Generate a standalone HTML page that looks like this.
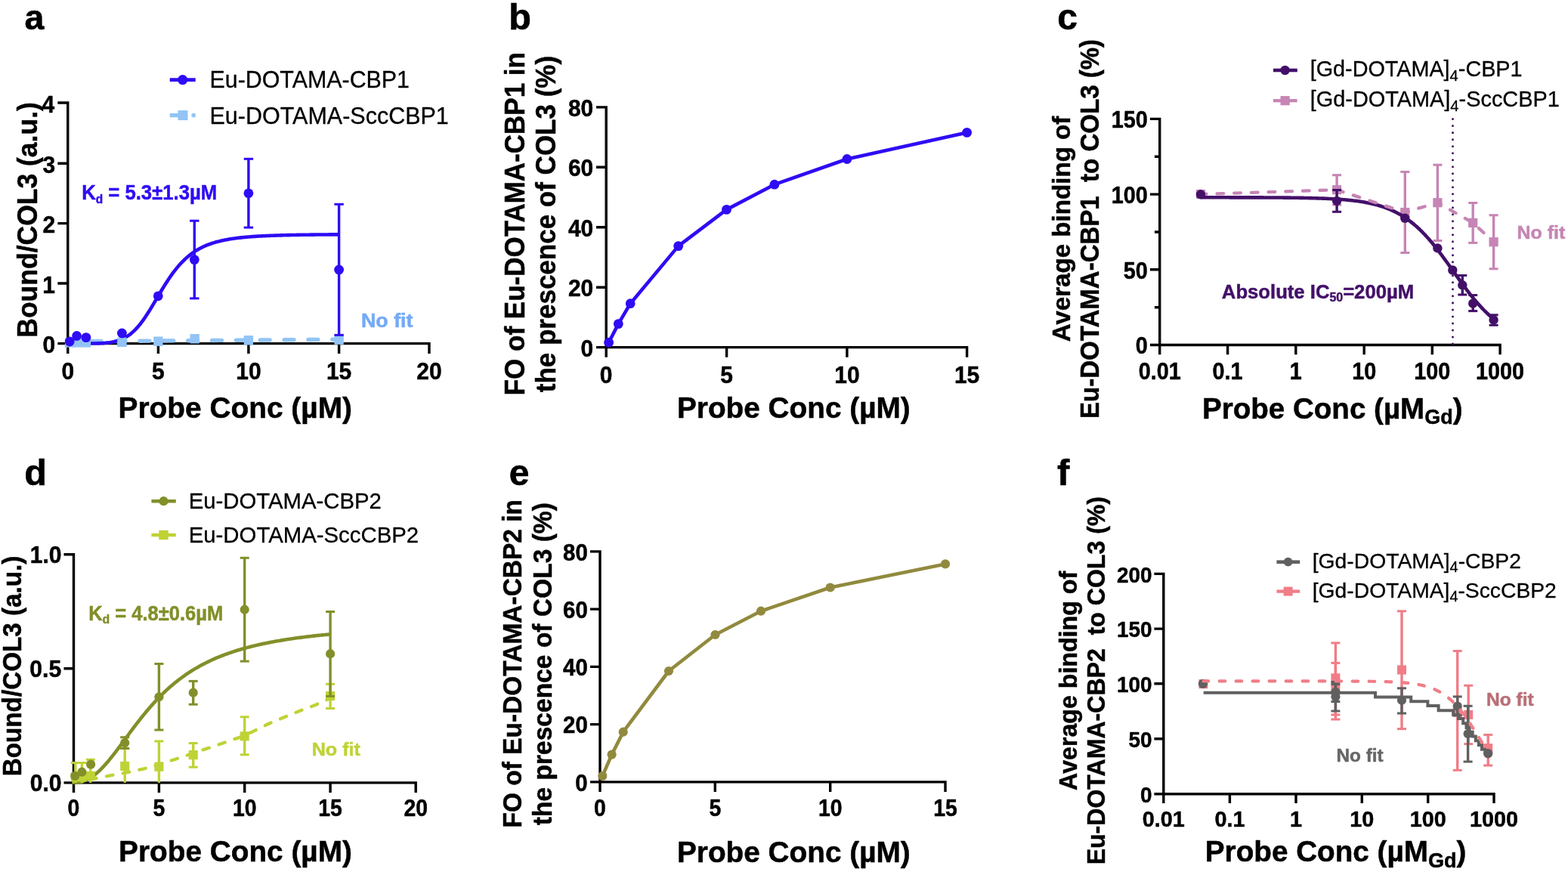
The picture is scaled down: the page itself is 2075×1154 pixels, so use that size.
<!DOCTYPE html>
<html lang="en">
<head>
<meta charset="utf-8">
<title>Probe binding to COL3 - panels a-f</title>
<style>
html,body{margin:0;padding:0;background:#fff;}
body{width:2075px;height:1154px;overflow:hidden;}
svg{display:block;}
svg text{font-family:'Liberation Sans', sans-serif;}
</style>
</head>
<body>
<svg width="2075" height="1154" viewBox="0 0 2075 1154" font-family="'Liberation Sans', sans-serif">
<rect x="0" y="0" width="2075" height="1154" fill="#ffffff"/>
<g id="panel-a">
<text transform="translate(33.9 39) translate(-1.4 0)" font-size="46.5" fill="#000" font-weight="bold" stroke="#000" stroke-width="0.6" stroke-linejoin="round">a</text>
<path d="M89.75,134.3 V468 M76.35,454.6 H569.7 M209.4,454.6 V468 M328.9,454.6 V468 M448.6,454.6 V468 M568,454.6 V468 M76.35,375 H89.75 M76.35,295.6 H89.75 M76.35,216.2 H89.75 M76.35,136 H89.75" fill="none" stroke="#000" stroke-width="3.4"/>
<text transform="translate(89.75 501.5) translate(-8.33 0) scale(0.9600 1)" font-size="31.2" fill="#000" font-weight="bold" stroke="#000" stroke-width="0.5" stroke-linejoin="round">0</text>
<text transform="translate(209.4 501.5) translate(-8.33 0) scale(0.9600 1)" font-size="31.2" fill="#000" font-weight="bold" stroke="#000" stroke-width="0.5" stroke-linejoin="round">5</text>
<text transform="translate(328.9 501.5) translate(-16.66 0) scale(0.9600 1)" font-size="31.2" fill="#000" font-weight="bold" stroke="#000" stroke-width="0.5" stroke-linejoin="round">10</text>
<text transform="translate(448.6 501.5) translate(-16.66 0) scale(0.9600 1)" font-size="31.2" fill="#000" font-weight="bold" stroke="#000" stroke-width="0.5" stroke-linejoin="round">15</text>
<text transform="translate(568 501.5) translate(-16.66 0) scale(0.9600 1)" font-size="31.2" fill="#000" font-weight="bold" stroke="#000" stroke-width="0.5" stroke-linejoin="round">20</text>
<text transform="translate(72 467.2) translate(-15.43 0) scale(0.9600 1)" font-size="31.2" fill="#000" font-weight="bold" stroke="#000" stroke-width="0.5" stroke-linejoin="round">0</text>
<text transform="translate(72 387.6) translate(-15.8 0) scale(0.9600 1)" font-size="31.2" fill="#000" font-weight="bold" stroke="#000" stroke-width="0.5" stroke-linejoin="round">1</text>
<text transform="translate(72 308.2) translate(-15.43 0) scale(0.9600 1)" font-size="31.2" fill="#000" font-weight="bold" stroke="#000" stroke-width="0.5" stroke-linejoin="round">2</text>
<text transform="translate(72 228.8) translate(-15.58 0) scale(0.9600 1)" font-size="31.2" fill="#000" font-weight="bold" stroke="#000" stroke-width="0.5" stroke-linejoin="round">3</text>
<text transform="translate(72 148.6) translate(-16.47 0) scale(0.9600 1)" font-size="31.2" fill="#000" font-weight="bold" stroke="#000" stroke-width="0.5" stroke-linejoin="round">4</text>
<text transform="translate(159.1 553.3) translate(-2.62 0) scale(0.9966 1)" font-size="39" fill="#000" font-weight="bold" stroke="#000" stroke-width="0.5" stroke-linejoin="round">Probe Conc (µM)</text>
<text transform="translate(48.6 444.3) rotate(-90) translate(-2.4 0) scale(0.9782 1)" font-size="36.3" fill="#000" font-weight="bold" stroke="#000" stroke-width="0.5" stroke-linejoin="round">Bound/COL3 (a.u.)</text>
<path d="M89.5,452 L448.6,449.2" fill="none" stroke="#93c4f5" stroke-width="5.4" stroke-linejoin="round" stroke-linecap="round" stroke-dasharray="12.8 19.05"/>
<path d="M89.75,454.6 L91.54,454.6 L93.34,454.6 L95.13,454.6 L96.92,454.6 L98.72,454.6 L100.51,454.6 L102.31,454.6 L104.1,454.6 L105.89,454.6 L107.69,454.6 L109.48,454.6 L111.27,454.59 L113.07,454.59 L114.86,454.58 L116.65,454.58 L118.45,454.57 L120.24,454.55 L122.04,454.54 L123.83,454.51 L125.62,454.48 L127.42,454.45 L129.21,454.4 L131,454.34 L132.8,454.27 L134.59,454.19 L136.38,454.08 L138.18,453.96 L139.97,453.81 L141.77,453.64 L143.56,453.44 L145.35,453.2 L147.15,452.93 L148.94,452.61 L150.73,452.25 L152.53,451.83 L154.32,451.36 L156.11,450.83 L157.91,450.23 L159.7,449.55 L161.5,448.8 L163.29,447.97 L165.08,447.04 L166.88,446.02 L168.67,444.9 L170.46,443.67 L172.26,442.34 L174.05,440.89 L175.84,439.33 L177.64,437.65 L179.43,435.85 L181.22,433.92 L183.02,431.88 L184.81,429.73 L186.61,427.46 L188.4,425.07 L190.19,422.59 L191.99,420 L193.78,417.33 L195.57,414.57 L197.37,411.74 L199.16,408.84 L200.95,405.89 L202.75,402.91 L204.54,399.89 L206.34,396.85 L208.13,393.81 L209.92,390.77 L211.72,387.74 L213.51,384.74 L215.3,381.78 L217.1,378.86 L218.89,375.99 L220.68,373.18 L222.48,370.44 L224.27,367.76 L226.07,365.16 L227.86,362.64 L229.65,360.21 L231.45,357.85 L233.24,355.59 L235.03,353.4 L236.83,351.31 L238.62,349.3 L240.41,347.38 L242.21,345.54 L244,343.78 L245.8,342.1 L247.59,340.5 L249.38,338.98 L251.18,337.53 L252.97,336.16 L254.76,334.85 L256.56,333.6 L258.35,332.42 L260.14,331.3 L261.94,330.24 L263.73,329.23 L265.53,328.28 L267.32,327.37 L269.11,326.52 L270.91,325.7 L272.7,324.93 L274.49,324.2 L276.29,323.51 L278.08,322.86 L279.87,322.24 L281.67,321.65 L283.46,321.1 L285.26,320.57 L287.05,320.07 L288.84,319.6 L290.64,319.15 L292.43,318.72 L294.22,318.32 L296.02,317.94 L297.81,317.57 L299.6,317.23 L301.4,316.9 L303.19,316.59 L304.99,316.3 L306.78,316.02 L308.57,315.75 L310.37,315.5 L312.16,315.26 L313.95,315.03 L315.75,314.81 L317.54,314.61 L319.33,314.41 L321.13,314.23 L322.92,314.05 L324.71,313.88 L326.51,313.72 L328.3,313.56 L330.1,313.42 L331.89,313.28 L333.68,313.15 L335.48,313.02 L337.27,312.9 L339.06,312.78 L340.86,312.67 L342.65,312.57 L344.44,312.47 L346.24,312.37 L348.03,312.28 L349.83,312.19 L351.62,312.11 L353.41,312.03 L355.21,311.95 L357,311.88 L358.79,311.81 L360.59,311.74 L362.38,311.68 L364.17,311.62 L365.97,311.56 L367.76,311.5 L369.56,311.45 L371.35,311.39 L373.14,311.34 L374.94,311.3 L376.73,311.25 L378.52,311.21 L380.32,311.16 L382.11,311.12 L383.9,311.09 L385.7,311.05 L387.49,311.01 L389.29,310.98 L391.08,310.94 L392.87,310.91 L394.67,310.88 L396.46,310.85 L398.25,310.82 L400.05,310.8 L401.84,310.77 L403.63,310.75 L405.43,310.72 L407.22,310.7 L409.02,310.68 L410.81,310.65 L412.6,310.63 L414.4,310.61 L416.19,310.59 L417.98,310.57 L419.78,310.56 L421.57,310.54 L423.36,310.52 L425.16,310.51 L426.95,310.49 L428.75,310.48 L430.54,310.46 L432.33,310.45 L434.13,310.43 L435.92,310.42 L437.71,310.41 L439.51,310.39 L441.3,310.38 L443.09,310.37 L444.89,310.36 L446.68,310.35 L448.47,310.34" fill="none" stroke="#2e0cf4" stroke-width="4.6" stroke-linejoin="round" stroke-linecap="butt"/>
<rect x="85.9" y="447.2" width="12.4" height="12.4" fill="#93c4f5"/>
<rect x="95.5" y="447.2" width="12.4" height="12.4" fill="#93c4f5"/>
<rect x="107.7" y="447.2" width="12.4" height="12.4" fill="#93c4f5"/>
<rect x="155.2" y="446.7" width="12.4" height="12.4" fill="#93c4f5"/>
<rect x="203.2" y="445.5" width="12.4" height="12.4" fill="#93c4f5"/>
<rect x="251.5" y="442.1" width="12.4" height="12.4" fill="#93c4f5"/>
<rect x="322.7" y="444.1" width="12.4" height="12.4" fill="#93c4f5"/>
<rect x="442.4" y="443.5" width="12.4" height="12.4" fill="#93c4f5"/>
<line x1="257.3" y1="292.2" x2="257.3" y2="394.9" stroke="#2e0cf4" stroke-width="3.4"/>
<line x1="251.1" y1="292.2" x2="263.5" y2="292.2" stroke="#2e0cf4" stroke-width="3.0"/>
<line x1="251.1" y1="394.9" x2="263.5" y2="394.9" stroke="#2e0cf4" stroke-width="3.0"/>
<line x1="328.9" y1="210.3" x2="328.9" y2="301.1" stroke="#2e0cf4" stroke-width="3.4"/>
<line x1="322.7" y1="210.3" x2="335.1" y2="210.3" stroke="#2e0cf4" stroke-width="3.0"/>
<line x1="322.7" y1="301.1" x2="335.1" y2="301.1" stroke="#2e0cf4" stroke-width="3.0"/>
<line x1="448.6" y1="270.3" x2="448.6" y2="443.4" stroke="#2e0cf4" stroke-width="3.4"/>
<line x1="442.4" y1="270.3" x2="454.8" y2="270.3" stroke="#2e0cf4" stroke-width="3.0"/>
<line x1="442.4" y1="443.4" x2="454.8" y2="443.4" stroke="#2e0cf4" stroke-width="3.0"/>
<circle cx="92.2" cy="452" r="6.4" fill="#2e0cf4"/>
<circle cx="101.6" cy="444.5" r="6.4" fill="#2e0cf4"/>
<circle cx="113.9" cy="446.6" r="6.4" fill="#2e0cf4"/>
<circle cx="161.4" cy="441" r="6.4" fill="#2e0cf4"/>
<circle cx="209.3" cy="391.8" r="6.4" fill="#2e0cf4"/>
<circle cx="257.3" cy="343.6" r="6.4" fill="#2e0cf4"/>
<circle cx="328.9" cy="255.8" r="6.4" fill="#2e0cf4"/>
<circle cx="448.6" cy="357" r="6.4" fill="#2e0cf4"/>
<line x1="224.7" y1="105.6" x2="258.7" y2="105.6" stroke="#2e0cf4" stroke-width="4.6"/>
<circle cx="241.7" cy="105.6" r="6.6" fill="#2e0cf4"/>
<text transform="translate(280 116.2) translate(-2.51 0) scale(0.9968 1)" font-size="30.5" fill="#000" stroke="#000" stroke-width="0.3" stroke-linejoin="round">Eu-DOTAMA-CBP1</text>
<line x1="224.7" y1="152.6" x2="242" y2="152.6" stroke="#93c4f5" stroke-width="5.4"/>
<rect x="235.5" y="146.1" width="13" height="13" fill="#93c4f5"/>
<path d="M255.9,149.9 H258.7 V155.3 H255.9 A2.7,2.7 0 0 1 255.9,149.9 Z" fill="#93c4f5"/>
<text transform="translate(280 163.5) translate(-2.52 0)" font-size="30.5" fill="#000" stroke="#000" stroke-width="0.3" stroke-linejoin="round">Eu-DOTAMA-SccCBP1</text>
<text transform="translate(109.9 264.2) translate(-1.74 0) scale(0.9247 1)" font-size="27.8" fill="#2e0cf4" font-weight="bold" stroke="#2e0cf4" stroke-width="0.5" stroke-linejoin="round">K<tspan font-size="16.68" dy="4.4">d</tspan><tspan dy="-4.4"> = 5.3±1.3µM</tspan></text>
<text transform="translate(479.8 432.9) translate(-1.81 0) scale(1.0319 1)" font-size="26" fill="#74aaf7" font-weight="bold" stroke="#74aaf7" stroke-width="0.5" stroke-linejoin="round">No fit</text>
</g>
<g id="panel-b">
<text transform="translate(676.3 38.7) translate(-3.16 0)" font-size="48.6" fill="#000" font-weight="bold" stroke="#000" stroke-width="0.6" stroke-linejoin="round">b</text>
<path d="M802.2,140.2 V472.8 M789,459.6 H1281.3 M961.6,459.6 V472.8 M1120.9,459.6 V472.8 M1279.6,459.6 V472.8 M789,380.2 H802.2 M789,300.7 H802.2 M789,221.3 H802.2 M789,141.9 H802.2" fill="none" stroke="#000" stroke-width="3.4"/>
<text transform="translate(802.2 506.9) translate(-8.33 0) scale(0.9600 1)" font-size="31.2" fill="#000" font-weight="bold" stroke="#000" stroke-width="0.5" stroke-linejoin="round">0</text>
<text transform="translate(961.6 506.9) translate(-8.33 0) scale(0.9600 1)" font-size="31.2" fill="#000" font-weight="bold" stroke="#000" stroke-width="0.5" stroke-linejoin="round">5</text>
<text transform="translate(1120.9 506.9) translate(-16.66 0) scale(0.9600 1)" font-size="31.2" fill="#000" font-weight="bold" stroke="#000" stroke-width="0.5" stroke-linejoin="round">10</text>
<text transform="translate(1279.6 506.9) translate(-16.66 0) scale(0.9600 1)" font-size="31.2" fill="#000" font-weight="bold" stroke="#000" stroke-width="0.5" stroke-linejoin="round">15</text>
<text transform="translate(784 471.6) translate(-15.43 0) scale(0.9600 1)" font-size="31.2" fill="#000" font-weight="bold" stroke="#000" stroke-width="0.5" stroke-linejoin="round">0</text>
<text transform="translate(784 392.2) translate(-32.05 0) scale(0.9600 1)" font-size="31.2" fill="#000" font-weight="bold" stroke="#000" stroke-width="0.5" stroke-linejoin="round">20</text>
<text transform="translate(784 312.7) translate(-32.05 0) scale(0.9600 1)" font-size="31.2" fill="#000" font-weight="bold" stroke="#000" stroke-width="0.5" stroke-linejoin="round">40</text>
<text transform="translate(784 233.3) translate(-32.05 0) scale(0.9600 1)" font-size="31.2" fill="#000" font-weight="bold" stroke="#000" stroke-width="0.5" stroke-linejoin="round">60</text>
<text transform="translate(784 153.9) translate(-32.05 0) scale(0.9600 1)" font-size="31.2" fill="#000" font-weight="bold" stroke="#000" stroke-width="0.5" stroke-linejoin="round">80</text>
<text transform="translate(898.6 553.4) translate(-2.62 0) scale(0.9943 1)" font-size="39" fill="#000" font-weight="bold" stroke="#000" stroke-width="0.5" stroke-linejoin="round">Probe Conc (µM)</text>
<text transform="translate(693.9 520.9) rotate(-90) translate(-2.36 0) scale(0.9408 1)" font-size="37.2" fill="#000" font-weight="bold" stroke="#000" stroke-width="0.5" stroke-linejoin="round">FO of Eu-DOTAMA-CBP1 in</text>
<text transform="translate(735.3 518.8) rotate(-90) translate(-0.44 0) scale(0.9411 1)" font-size="37.2" fill="#000" font-weight="bold" stroke="#000" stroke-width="0.5" stroke-linejoin="round">the prescence of COL3 (%)</text>
<path d="M805.6,453.2 L818.3,428.6 L834.2,401.7 L897.7,325.6 L961.5,277.4 L1024.9,244.2 L1120.9,210.5 L1279.6,175.4" fill="none" stroke="#2e0cf4" stroke-width="4.6" stroke-linejoin="round" stroke-linecap="butt"/>
<circle cx="805.6" cy="453.2" r="6.4" fill="#2e0cf4"/>
<circle cx="818.3" cy="428.6" r="6.4" fill="#2e0cf4"/>
<circle cx="834.2" cy="401.7" r="6.4" fill="#2e0cf4"/>
<circle cx="897.7" cy="325.6" r="6.4" fill="#2e0cf4"/>
<circle cx="961.5" cy="277.4" r="6.4" fill="#2e0cf4"/>
<circle cx="1024.9" cy="244.2" r="6.4" fill="#2e0cf4"/>
<circle cx="1120.9" cy="210.5" r="6.4" fill="#2e0cf4"/>
<circle cx="1279.6" cy="175.4" r="6.4" fill="#2e0cf4"/>
</g>
<g id="panel-c">
<text transform="translate(1401.2 38.6) translate(-1.92 0)" font-size="48" fill="#000" font-weight="bold" stroke="#000" stroke-width="0.6" stroke-linejoin="round">c</text>
<path d="M1534.7,155.7 V469.3 M1521.9,456.5 H1986.8 M1624.6,456.5 V469.3 M1714.8,456.5 V469.3 M1805.2,456.5 V469.3 M1895.3,456.5 V469.3 M1985.1,456.5 V469.3 M1521.9,356.8 H1534.7 M1521.9,257.1 H1534.7 M1521.9,157.4 H1534.7 M1527.9,406.7 H1534.7 M1527.9,307 H1534.7 M1527.9,207.3 H1534.7" fill="none" stroke="#000" stroke-width="3.4"/>
<text transform="translate(1534.7 501.7) translate(-28.03 0) scale(0.9230 1)" font-size="31.2" fill="#000" font-weight="bold" stroke="#000" stroke-width="0.5" stroke-linejoin="round">0.01</text>
<text transform="translate(1624.6 501.7) translate(-20.02 0) scale(0.9230 1)" font-size="31.2" fill="#000" font-weight="bold" stroke="#000" stroke-width="0.5" stroke-linejoin="round">0.1</text>
<text transform="translate(1714.8 501.7) translate(-8.01 0) scale(0.9230 1)" font-size="31.2" fill="#000" font-weight="bold" stroke="#000" stroke-width="0.5" stroke-linejoin="round">1</text>
<text transform="translate(1805.2 501.7) translate(-16.02 0) scale(0.9230 1)" font-size="31.2" fill="#000" font-weight="bold" stroke="#000" stroke-width="0.5" stroke-linejoin="round">10</text>
<text transform="translate(1895.3 501.7) translate(-24.02 0) scale(0.9230 1)" font-size="31.2" fill="#000" font-weight="bold" stroke="#000" stroke-width="0.5" stroke-linejoin="round">100</text>
<text transform="translate(1985.1 501.7) translate(-32.03 0) scale(0.9230 1)" font-size="31.2" fill="#000" font-weight="bold" stroke="#000" stroke-width="0.5" stroke-linejoin="round">1000</text>
<text transform="translate(1517.6 468.2) translate(-14.83 0) scale(0.9230 1)" font-size="31.2" fill="#000" font-weight="bold" stroke="#000" stroke-width="0.5" stroke-linejoin="round">0</text>
<text transform="translate(1517.6 368.5) translate(-30.81 0) scale(0.9230 1)" font-size="31.2" fill="#000" font-weight="bold" stroke="#000" stroke-width="0.5" stroke-linejoin="round">50</text>
<text transform="translate(1517.6 268.8) translate(-46.87 0) scale(0.9230 1)" font-size="31.2" fill="#000" font-weight="bold" stroke="#000" stroke-width="0.5" stroke-linejoin="round">100</text>
<text transform="translate(1517.6 169.1) translate(-46.87 0) scale(0.9230 1)" font-size="31.2" fill="#000" font-weight="bold" stroke="#000" stroke-width="0.5" stroke-linejoin="round">150</text>
<text transform="translate(1593.6 553.6) translate(-2.6 0) scale(0.9891 1)" font-size="39" fill="#000" font-weight="bold" stroke="#000" stroke-width="0.5" stroke-linejoin="round">Probe Conc (µM<tspan font-size="27.3" dy="7.5">Gd</tspan><tspan dy="-7.5">)</tspan></text>
<text transform="translate(1415.8 451.5) rotate(-90) translate(-0.83 0) scale(1.0160 1)" font-size="32.6" fill="#000" font-weight="bold" stroke="#000" stroke-width="0.5" stroke-linejoin="round">Average binding of</text>
<text transform="translate(1453.6 551.8) rotate(-90) translate(-2.23 0) scale(0.9467 1)" font-size="34.9" fill="#000" font-weight="bold" stroke="#000" stroke-width="0.5" stroke-linejoin="round" xml:space="preserve">Eu-DOTAMA-CBP1  to COL3 (%)</text>
<line x1="1769.1" y1="231.7" x2="1769.1" y2="271" stroke="#c685b4" stroke-width="3.4"/>
<line x1="1763.1" y1="231.7" x2="1775.1" y2="231.7" stroke="#c685b4" stroke-width="3.0"/>
<line x1="1763.1" y1="271" x2="1775.1" y2="271" stroke="#c685b4" stroke-width="3.0"/>
<line x1="1859.3" y1="227.4" x2="1859.3" y2="334.5" stroke="#c685b4" stroke-width="3.4"/>
<line x1="1853.3" y1="227.4" x2="1865.3" y2="227.4" stroke="#c685b4" stroke-width="3.0"/>
<line x1="1853.3" y1="334.5" x2="1865.3" y2="334.5" stroke="#c685b4" stroke-width="3.0"/>
<line x1="1902.4" y1="218.2" x2="1902.4" y2="318.5" stroke="#c685b4" stroke-width="3.4"/>
<line x1="1896.4" y1="218.2" x2="1908.4" y2="218.2" stroke="#c685b4" stroke-width="3.0"/>
<line x1="1896.4" y1="318.5" x2="1908.4" y2="318.5" stroke="#c685b4" stroke-width="3.0"/>
<line x1="1949.2" y1="268.5" x2="1949.2" y2="321.4" stroke="#c685b4" stroke-width="3.4"/>
<line x1="1943.2" y1="268.5" x2="1955.2" y2="268.5" stroke="#c685b4" stroke-width="3.0"/>
<line x1="1943.2" y1="321.4" x2="1955.2" y2="321.4" stroke="#c685b4" stroke-width="3.0"/>
<line x1="1976.6" y1="284.8" x2="1976.6" y2="355.8" stroke="#c685b4" stroke-width="3.4"/>
<line x1="1970.6" y1="284.8" x2="1982.6" y2="284.8" stroke="#c685b4" stroke-width="3.0"/>
<line x1="1970.6" y1="355.8" x2="1982.6" y2="355.8" stroke="#c685b4" stroke-width="3.0"/>
<rect x="1582.9" y="250.9" width="12.2" height="12.2" fill="#c685b4"/>
<rect x="1763" y="245.1" width="12.2" height="12.2" fill="#c685b4"/>
<rect x="1853.2" y="274.9" width="12.2" height="12.2" fill="#c685b4"/>
<rect x="1896.3" y="262.1" width="12.2" height="12.2" fill="#c685b4"/>
<rect x="1943.1" y="288.8" width="12.2" height="12.2" fill="#c685b4"/>
<rect x="1970.5" y="314.1" width="12.2" height="12.2" fill="#c685b4"/>
<path d="M1588.95,261.3 L1590.56,261.3 L1592.18,261.3 L1593.79,261.3 L1595.41,261.3 L1597.02,261.3 L1598.64,261.3 L1600.25,261.3 L1601.87,261.31 L1603.48,261.31 L1605.1,261.31 L1606.71,261.31 L1608.33,261.31 L1609.94,261.31 L1611.56,261.31 L1613.17,261.31 L1614.79,261.31 L1616.4,261.32 L1618.02,261.32 L1619.63,261.32 L1621.25,261.32 L1622.86,261.32 L1624.48,261.32 L1626.09,261.32 L1627.71,261.33 L1629.32,261.33 L1630.94,261.33 L1632.55,261.33 L1634.17,261.33 L1635.78,261.34 L1637.4,261.34 L1639.01,261.34 L1640.63,261.34 L1642.24,261.35 L1643.86,261.35 L1645.47,261.35 L1647.09,261.35 L1648.7,261.36 L1650.32,261.36 L1651.93,261.36 L1653.55,261.37 L1655.16,261.37 L1656.78,261.38 L1658.39,261.38 L1660.01,261.39 L1661.62,261.39 L1663.24,261.39 L1664.85,261.4 L1666.47,261.41 L1668.08,261.41 L1669.7,261.42 L1671.31,261.42 L1672.93,261.43 L1674.55,261.44 L1676.16,261.44 L1677.78,261.45 L1679.39,261.46 L1681.01,261.47 L1682.62,261.48 L1684.24,261.48 L1685.85,261.49 L1687.47,261.5 L1689.08,261.51 L1690.7,261.52 L1692.31,261.54 L1693.93,261.55 L1695.54,261.56 L1697.16,261.57 L1698.77,261.59 L1700.39,261.6 L1702,261.62 L1703.62,261.63 L1705.23,261.65 L1706.85,261.67 L1708.46,261.68 L1710.08,261.7 L1711.69,261.72 L1713.31,261.74 L1714.92,261.76 L1716.54,261.79 L1718.15,261.81 L1719.77,261.84 L1721.38,261.86 L1723,261.89 L1724.61,261.92 L1726.23,261.95 L1727.84,261.98 L1729.46,262.01 L1731.07,262.05 L1732.69,262.08 L1734.3,262.12 L1735.92,262.16 L1737.53,262.2 L1739.15,262.24 L1740.76,262.29 L1742.38,262.34 L1743.99,262.39 L1745.61,262.44 L1747.22,262.49 L1748.84,262.55 L1750.45,262.61 L1752.07,262.67 L1753.68,262.74 L1755.3,262.81 L1756.91,262.88 L1758.53,262.96 L1760.14,263.04 L1761.76,263.12 L1763.37,263.2 L1764.99,263.29 L1766.61,263.39 L1768.22,263.49 L1769.84,263.59 L1771.45,263.7 L1773.07,263.82 L1774.68,263.93 L1776.3,264.06 L1777.91,264.19 L1779.53,264.33 L1781.14,264.47 L1782.76,264.62 L1784.37,264.77 L1785.99,264.94 L1787.6,265.11 L1789.22,265.29 L1790.83,265.47 L1792.45,265.67 L1794.06,265.87 L1795.68,266.09 L1797.29,266.31 L1798.91,266.54 L1800.52,266.79 L1802.14,267.04 L1803.75,267.31 L1805.37,267.59 L1806.98,267.88 L1808.6,268.18 L1810.21,268.5 L1811.83,268.83 L1813.44,269.17 L1815.06,269.54 L1816.67,269.91 L1818.29,270.3 L1819.9,270.71 L1821.52,271.14 L1823.13,271.59 L1824.75,272.05 L1826.36,272.54 L1827.98,273.04 L1829.59,273.57 L1831.21,274.11 L1832.82,274.68 L1834.44,275.28 L1836.05,275.9 L1837.67,276.54 L1839.28,277.21 L1840.9,277.9 L1842.51,278.63 L1844.13,279.38 L1845.74,280.16 L1847.36,280.97 L1848.97,281.81 L1850.59,282.68 L1852.2,283.59 L1853.82,284.52 L1855.43,285.5 L1857.05,286.5 L1858.66,287.54 L1860.28,288.62 L1861.9,289.74 L1863.51,290.89 L1865.13,292.08 L1866.74,293.31 L1868.36,294.58 L1869.97,295.89 L1871.59,297.23 L1873.2,298.62 L1874.82,300.05 L1876.43,301.52 L1878.05,303.03 L1879.66,304.58 L1881.28,306.17 L1882.89,307.8 L1884.51,309.48 L1886.12,311.19 L1887.74,312.94 L1889.35,314.73 L1890.97,316.56 L1892.58,318.43 L1894.2,320.33 L1895.81,322.27 L1897.43,324.24 L1899.04,326.25 L1900.66,328.29 L1902.27,330.35 L1903.89,332.45 L1905.5,334.57 L1907.12,336.72 L1908.73,338.89 L1910.35,341.08 L1911.96,343.29 L1913.58,345.51 L1915.19,347.75 L1916.81,350.01 L1918.42,352.27 L1920.04,354.54 L1921.65,356.81 L1923.27,359.09 L1924.88,361.36 L1926.5,363.63 L1928.11,365.9 L1929.73,368.16 L1931.34,370.41 L1932.96,372.65 L1934.57,374.87 L1936.19,377.08 L1937.8,379.27 L1939.42,381.43 L1941.03,383.58 L1942.65,385.69 L1944.26,387.79 L1945.88,389.85 L1947.49,391.88 L1949.11,393.88 L1950.72,395.85 L1952.34,397.78 L1953.95,399.68 L1955.57,401.54 L1957.19,403.36 L1958.8,405.14 L1960.42,406.89 L1962.03,408.6 L1963.65,410.26 L1965.26,411.89 L1966.88,413.47 L1968.49,415.02 L1970.11,416.52 L1971.72,417.98 L1973.34,419.4 L1974.95,420.78 L1976.57,422.13" fill="none" stroke="#431069" stroke-width="4.6" stroke-linejoin="round" stroke-linecap="butt"/>
<path d="M1589,257 L1769.1,251.2 L1859.3,281 L1902.4,268.2 L1949.2,294.9 L1976.6,320.2" fill="none" stroke="#c685b4" stroke-width="4.3" stroke-linejoin="round" stroke-linecap="round" stroke-dasharray="8.7 14" stroke-dashoffset="1.2"/>
<line x1="1769.1" y1="251.5" x2="1769.1" y2="280.3" stroke="#431069" stroke-width="3.4"/>
<line x1="1763.1" y1="251.5" x2="1775.1" y2="251.5" stroke="#431069" stroke-width="3.0"/>
<line x1="1763.1" y1="280.3" x2="1775.1" y2="280.3" stroke="#431069" stroke-width="3.0"/>
<line x1="1935.3" y1="364.5" x2="1935.3" y2="390" stroke="#431069" stroke-width="3.4"/>
<line x1="1929.3" y1="364.5" x2="1941.3" y2="364.5" stroke="#431069" stroke-width="3.0"/>
<line x1="1929.3" y1="390" x2="1941.3" y2="390" stroke="#431069" stroke-width="3.0"/>
<line x1="1949.2" y1="390.6" x2="1949.2" y2="411.6" stroke="#431069" stroke-width="3.4"/>
<line x1="1943.2" y1="390.6" x2="1955.2" y2="390.6" stroke="#431069" stroke-width="3.0"/>
<line x1="1943.2" y1="411.6" x2="1955.2" y2="411.6" stroke="#431069" stroke-width="3.0"/>
<line x1="1976.6" y1="416.8" x2="1976.6" y2="430.3" stroke="#431069" stroke-width="3.4"/>
<line x1="1970.6" y1="416.8" x2="1982.6" y2="416.8" stroke="#431069" stroke-width="3.0"/>
<line x1="1970.6" y1="430.3" x2="1982.6" y2="430.3" stroke="#431069" stroke-width="3.0"/>
<circle cx="1588.9" cy="257.3" r="6.2" fill="#431069"/>
<circle cx="1769.1" cy="265.9" r="6.2" fill="#431069"/>
<circle cx="1859.3" cy="288.8" r="6.2" fill="#431069"/>
<circle cx="1902.4" cy="328.4" r="6.2" fill="#431069"/>
<circle cx="1922.3" cy="357.5" r="6.2" fill="#431069"/>
<circle cx="1935.3" cy="377.3" r="6.2" fill="#431069"/>
<circle cx="1949.2" cy="401.7" r="6.2" fill="#431069"/>
<circle cx="1976.6" cy="423.4" r="6.2" fill="#431069"/>
<line x1="1922.5" y1="157.6" x2="1922.5" y2="455" stroke="#431069" stroke-width="3.0" stroke-dasharray="0.01 9" stroke-linecap="round"/>
<line x1="1685" y1="93" x2="1716.8" y2="93" stroke="#431069" stroke-width="4.6"/>
<circle cx="1700.6" cy="93" r="6.2" fill="#431069"/>
<text transform="translate(1735.8 101.1) translate(-2.09 0) scale(0.9761 1)" font-size="29.5" fill="#000" stroke="#000" stroke-width="0.3" stroke-linejoin="round">[Gd-DOTAMA]<tspan font-size="20.65" dy="5.7">4</tspan><tspan dy="-5.7">-CBP1</tspan></text>
<line x1="1685" y1="133.2" x2="1716.6" y2="133.2" stroke="#c685b4" stroke-width="4.3"/>
<rect x="1694.5" y="127.1" width="12.2" height="12.2" fill="#c685b4"/>
<text transform="translate(1735.8 141) translate(-2.1 0) scale(0.9796 1)" font-size="29.5" fill="#000" stroke="#000" stroke-width="0.3" stroke-linejoin="round">[Gd-DOTAMA]<tspan font-size="20.65" dy="5.7">4</tspan><tspan dy="-5.7">-SccCBP1</tspan></text>
<text transform="translate(1617.5 395.2) translate(-0.64 0) scale(0.9687 1)" font-size="26.5" fill="#431069" font-weight="bold" stroke="#431069" stroke-width="0.5" stroke-linejoin="round">Absolute IC<tspan font-size="16.43" dy="4.2">50</tspan><tspan dy="-4.2">=200µM</tspan></text>
<text transform="translate(2009.2 315.6) translate(-1.69 0) scale(1.0068 1)" font-size="24.8" fill="#c685b4" font-weight="bold" stroke="#c685b4" stroke-width="0.5" stroke-linejoin="round">No fit</text>
</g>
<g id="panel-d">
<text transform="translate(34.2 641.8) translate(-1.94 0)" font-size="48.6" fill="#000" font-weight="bold" stroke="#000" stroke-width="0.6" stroke-linejoin="round">d</text>
<path d="M97.5,732 V1048.9 M84.5,1035.9 H551.9 M210.4,1035.9 V1048.9 M323.7,1035.9 V1048.9 M437.1,1035.9 V1048.9 M550.2,1035.9 V1048.9 M84.5,884.8 H97.5 M84.5,733.7 H97.5" fill="none" stroke="#000" stroke-width="3.4"/>
<text transform="translate(97.5 1080.3) translate(-7.89 0) scale(0.9300 1)" font-size="30.5" fill="#000" font-weight="bold" stroke="#000" stroke-width="0.5" stroke-linejoin="round">0</text>
<text transform="translate(210.4 1080.3) translate(-7.89 0) scale(0.9300 1)" font-size="30.5" fill="#000" font-weight="bold" stroke="#000" stroke-width="0.5" stroke-linejoin="round">5</text>
<text transform="translate(323.7 1080.3) translate(-15.78 0) scale(0.9300 1)" font-size="30.5" fill="#000" font-weight="bold" stroke="#000" stroke-width="0.5" stroke-linejoin="round">10</text>
<text transform="translate(437.1 1080.3) translate(-15.78 0) scale(0.9300 1)" font-size="30.5" fill="#000" font-weight="bold" stroke="#000" stroke-width="0.5" stroke-linejoin="round">15</text>
<text transform="translate(550.2 1080.3) translate(-15.78 0) scale(0.9300 1)" font-size="30.5" fill="#000" font-weight="bold" stroke="#000" stroke-width="0.5" stroke-linejoin="round">20</text>
<text transform="translate(80.3 1046.9) translate(-40.64 0) scale(0.9870 1)" font-size="30.5" fill="#000" font-weight="bold" stroke="#000" stroke-width="0.5" stroke-linejoin="round">0.0</text>
<text transform="translate(80.3 895.8) translate(-41.02 0) scale(0.9870 1)" font-size="30.5" fill="#000" font-weight="bold" stroke="#000" stroke-width="0.5" stroke-linejoin="round">0.5</text>
<text transform="translate(80.3 744.7) translate(-40.64 0) scale(0.9870 1)" font-size="30.5" fill="#000" font-weight="bold" stroke="#000" stroke-width="0.5" stroke-linejoin="round">1.0</text>
<text transform="translate(159.7 1140.4) translate(-2.62 0) scale(0.9943 1)" font-size="39" fill="#000" font-weight="bold" stroke="#000" stroke-width="0.5" stroke-linejoin="round">Probe Conc (µM)</text>
<text transform="translate(27.8 1025.1) rotate(-90) translate(-2.24 0) scale(0.9502 1)" font-size="35" fill="#000" font-weight="bold" stroke="#000" stroke-width="0.5" stroke-linejoin="round">Bound/COL3 (a.u.)</text>
<path d="M97.5,1035.5 L166.6,1022.5 L190.8,1017.3 L230.7,1005.2 L294.9,983.5 L323.7,973.5 L355.5,957.8 L397.2,940.5 L418,932.7 L437.1,924" fill="none" stroke="#bfd236" stroke-width="4.3" stroke-linejoin="round" stroke-linecap="round" stroke-dasharray="8.6 13.5"/>
<path d="M97.5,1035.9 L99.2,1035.88 L100.9,1035.79 L102.59,1035.64 L104.29,1035.4 L105.99,1035.09 L107.69,1034.69 L109.39,1034.21 L111.08,1033.64 L112.78,1032.98 L114.48,1032.23 L116.18,1031.39 L117.88,1030.46 L119.57,1029.45 L121.27,1028.34 L122.97,1027.16 L124.67,1025.89 L126.37,1024.53 L128.06,1023.1 L129.76,1021.6 L131.46,1020.02 L133.16,1018.37 L134.86,1016.65 L136.55,1014.87 L138.25,1013.02 L139.95,1011.13 L141.65,1009.18 L143.35,1007.18 L145.04,1005.13 L146.74,1003.04 L148.44,1000.92 L150.14,998.76 L151.84,996.57 L153.53,994.36 L155.23,992.12 L156.93,989.87 L158.63,987.59 L160.33,985.31 L162.02,983.02 L163.72,980.72 L165.42,978.41 L167.12,976.11 L168.82,973.81 L170.51,971.51 L172.21,969.22 L173.91,966.94 L175.61,964.68 L177.31,962.42 L179,960.18 L180.7,957.96 L182.4,955.76 L184.1,953.58 L185.8,951.42 L187.49,949.28 L189.19,947.17 L190.89,945.08 L192.59,943.02 L194.29,940.98 L195.98,938.97 L197.68,936.99 L199.38,935.04 L201.08,933.12 L202.78,931.22 L204.47,929.36 L206.17,927.53 L207.87,925.72 L209.57,923.95 L211.27,922.2 L212.96,920.49 L214.66,918.8 L216.36,917.15 L218.06,915.52 L219.76,913.93 L221.45,912.36 L223.15,910.82 L224.85,909.31 L226.55,907.83 L228.25,906.38 L229.94,904.96 L231.64,903.56 L233.34,902.19 L235.04,900.85 L236.74,899.53 L238.43,898.24 L240.13,896.98 L241.83,895.74 L243.53,894.52 L245.23,893.33 L246.92,892.16 L248.62,891.02 L250.32,889.9 L252.02,888.8 L253.72,887.73 L255.41,886.67 L257.11,885.64 L258.81,884.63 L260.51,883.64 L262.21,882.66 L263.9,881.71 L265.6,880.78 L267.3,879.87 L269,878.97 L270.7,878.09 L272.39,877.23 L274.09,876.39 L275.79,875.57 L277.49,874.76 L279.19,873.97 L280.88,873.19 L282.58,872.43 L284.28,871.68 L285.98,870.95 L287.68,870.24 L289.37,869.53 L291.07,868.84 L292.77,868.17 L294.47,867.51 L296.17,866.86 L297.86,866.22 L299.56,865.6 L301.26,864.99 L302.96,864.39 L304.66,863.8 L306.35,863.22 L308.05,862.66 L309.75,862.1 L311.45,861.56 L313.15,861.03 L314.84,860.5 L316.54,859.99 L318.24,859.49 L319.94,858.99 L321.64,858.51 L323.33,858.03 L325.03,857.56 L326.73,857.1 L328.43,856.65 L330.13,856.21 L331.82,855.78 L333.52,855.35 L335.22,854.93 L336.92,854.52 L338.62,854.12 L340.31,853.72 L342.01,853.33 L343.71,852.95 L345.41,852.58 L347.11,852.21 L348.8,851.85 L350.5,851.49 L352.2,851.14 L353.9,850.8 L355.6,850.46 L357.29,850.13 L358.99,849.8 L360.69,849.48 L362.39,849.17 L364.09,848.86 L365.78,848.55 L367.48,848.25 L369.18,847.96 L370.88,847.67 L372.58,847.39 L374.27,847.11 L375.97,846.83 L377.67,846.56 L379.37,846.3 L381.07,846.03 L382.76,845.78 L384.46,845.52 L386.16,845.27 L387.86,845.03 L389.56,844.79 L391.25,844.55 L392.95,844.32 L394.65,844.09 L396.35,843.86 L398.05,843.64 L399.74,843.42 L401.44,843.2 L403.14,842.99 L404.84,842.78 L406.54,842.58 L408.23,842.37 L409.93,842.17 L411.63,841.98 L413.33,841.78 L415.03,841.59 L416.72,841.41 L418.42,841.22 L420.12,841.04 L421.82,840.86 L423.52,840.68 L425.21,840.51 L426.91,840.34 L428.61,840.17 L430.31,840 L432.01,839.84 L433.7,839.67 L435.4,839.51 L437.1,839.36" fill="none" stroke="#838f29" stroke-width="4.6" stroke-linejoin="round" stroke-linecap="butt"/>
<line x1="99.8" y1="1009.5" x2="99.8" y2="1035.9" stroke="#bfd236" stroke-width="3.4"/>
<line x1="93.8" y1="1009.5" x2="105.8" y2="1009.5" stroke="#bfd236" stroke-width="3.0"/>
<line x1="108.4" y1="1009.5" x2="108.4" y2="1035.9" stroke="#bfd236" stroke-width="3.4"/>
<line x1="102.4" y1="1009.5" x2="114.4" y2="1009.5" stroke="#bfd236" stroke-width="3.0"/>
<line x1="119.8" y1="1005.2" x2="119.8" y2="1035.9" stroke="#bfd236" stroke-width="3.4"/>
<line x1="113.8" y1="1005.2" x2="125.8" y2="1005.2" stroke="#bfd236" stroke-width="3.0"/>
<line x1="165.2" y1="990.4" x2="165.2" y2="1035.9" stroke="#bfd236" stroke-width="3.4"/>
<line x1="159.2" y1="990.4" x2="171.2" y2="990.4" stroke="#bfd236" stroke-width="3.0"/>
<line x1="210.4" y1="980.9" x2="210.4" y2="1035.9" stroke="#bfd236" stroke-width="3.4"/>
<line x1="204.4" y1="980.9" x2="216.4" y2="980.9" stroke="#bfd236" stroke-width="3.0"/>
<line x1="255.7" y1="983.5" x2="255.7" y2="1015.2" stroke="#bfd236" stroke-width="3.4"/>
<line x1="249.7" y1="983.5" x2="261.7" y2="983.5" stroke="#bfd236" stroke-width="3.0"/>
<line x1="249.7" y1="1015.2" x2="261.7" y2="1015.2" stroke="#bfd236" stroke-width="3.0"/>
<line x1="323.7" y1="948.8" x2="323.7" y2="998.8" stroke="#bfd236" stroke-width="3.4"/>
<line x1="317.7" y1="948.8" x2="329.7" y2="948.8" stroke="#bfd236" stroke-width="3.0"/>
<line x1="317.7" y1="998.8" x2="329.7" y2="998.8" stroke="#bfd236" stroke-width="3.0"/>
<line x1="437.1" y1="905.3" x2="437.1" y2="937.5" stroke="#bfd236" stroke-width="3.4"/>
<line x1="431.1" y1="905.3" x2="443.1" y2="905.3" stroke="#bfd236" stroke-width="3.0"/>
<line x1="431.1" y1="937.5" x2="443.1" y2="937.5" stroke="#bfd236" stroke-width="3.0"/>
<rect x="93.75" y="1022.25" width="12.1" height="12.1" fill="#bfd236"/>
<rect x="102.35" y="1022.25" width="12.1" height="12.1" fill="#bfd236"/>
<rect x="113.75" y="1020.75" width="12.1" height="12.1" fill="#bfd236"/>
<rect x="159.15" y="1007.85" width="12.1" height="12.1" fill="#bfd236"/>
<rect x="204.35" y="1008.65" width="12.1" height="12.1" fill="#bfd236"/>
<rect x="249.65" y="993.05" width="12.1" height="12.1" fill="#bfd236"/>
<rect x="317.65" y="968.25" width="12.1" height="12.1" fill="#bfd236"/>
<rect x="431.05" y="914.95" width="12.1" height="12.1" fill="#bfd236"/>
<line x1="165.2" y1="975.7" x2="165.2" y2="990.4" stroke="#838f29" stroke-width="3.4"/>
<line x1="159.2" y1="975.7" x2="171.2" y2="975.7" stroke="#838f29" stroke-width="3.0"/>
<line x1="159.2" y1="990.4" x2="171.2" y2="990.4" stroke="#838f29" stroke-width="3.0"/>
<line x1="210.4" y1="878.5" x2="210.4" y2="966" stroke="#838f29" stroke-width="3.4"/>
<line x1="204.4" y1="878.5" x2="216.4" y2="878.5" stroke="#838f29" stroke-width="3.0"/>
<line x1="204.4" y1="966" x2="216.4" y2="966" stroke="#838f29" stroke-width="3.0"/>
<line x1="255.7" y1="901.4" x2="255.7" y2="932.2" stroke="#838f29" stroke-width="3.4"/>
<line x1="249.7" y1="901.4" x2="261.7" y2="901.4" stroke="#838f29" stroke-width="3.0"/>
<line x1="249.7" y1="932.2" x2="261.7" y2="932.2" stroke="#838f29" stroke-width="3.0"/>
<line x1="323.7" y1="738.3" x2="323.7" y2="875.1" stroke="#838f29" stroke-width="3.4"/>
<line x1="317.7" y1="738.3" x2="329.7" y2="738.3" stroke="#838f29" stroke-width="3.0"/>
<line x1="317.7" y1="875.1" x2="329.7" y2="875.1" stroke="#838f29" stroke-width="3.0"/>
<line x1="437.1" y1="809.5" x2="437.1" y2="921.4" stroke="#838f29" stroke-width="3.4"/>
<line x1="431.1" y1="809.5" x2="443.1" y2="809.5" stroke="#838f29" stroke-width="3.0"/>
<line x1="431.1" y1="921.4" x2="443.1" y2="921.4" stroke="#838f29" stroke-width="3.0"/>
<circle cx="99.2" cy="1026.9" r="6.1" fill="#838f29"/>
<circle cx="108.4" cy="1021.7" r="6.1" fill="#838f29"/>
<circle cx="120.1" cy="1011.6" r="6.1" fill="#838f29"/>
<circle cx="165.2" cy="983.1" r="6.1" fill="#838f29"/>
<circle cx="210.4" cy="922.3" r="6.1" fill="#838f29"/>
<circle cx="255.7" cy="916.7" r="6.1" fill="#838f29"/>
<circle cx="323.7" cy="806.7" r="6.1" fill="#838f29"/>
<circle cx="437.1" cy="865.2" r="6.1" fill="#838f29"/>
<line x1="200.4" y1="663.2" x2="232.8" y2="663.2" stroke="#838f29" stroke-width="4.6"/>
<circle cx="216.5" cy="663.2" r="6.1" fill="#838f29"/>
<text transform="translate(252.1 673.3) translate(-2.42 0) scale(1.0113 1)" font-size="29" fill="#000" stroke="#000" stroke-width="0.3" stroke-linejoin="round">Eu-DOTAMA-CBP2</text>
<line x1="200.4" y1="708" x2="232.8" y2="708" stroke="#bfd236" stroke-width="4.3"/>
<rect x="210.3" y="701.8" width="12.4" height="12.4" fill="#bfd236"/>
<text transform="translate(252.1 718) translate(-2.42 0) scale(1.0128 1)" font-size="29" fill="#000" stroke="#000" stroke-width="0.3" stroke-linejoin="round">Eu-DOTAMA-SccCBP2</text>
<text transform="translate(118.9 820.8) translate(-1.72 0) scale(0.9449 1)" font-size="27" fill="#838f29" font-weight="bold" stroke="#838f29" stroke-width="0.5" stroke-linejoin="round">K<tspan font-size="16.74" dy="4">d</tspan><tspan dy="-4"> = 4.8±0.6µM</tspan></text>
<text transform="translate(414.4 1000) translate(-1.7 0) scale(1.0134 1)" font-size="24.8" fill="#bfd236" font-weight="bold" stroke="#bfd236" stroke-width="0.5" stroke-linejoin="round">No fit</text>
</g>
<g id="panel-e">
<text transform="translate(675.6 642) translate(-1.92 0)" font-size="48" fill="#000" font-weight="bold" stroke="#000" stroke-width="0.6" stroke-linejoin="round">e</text>
<path d="M794,728.2 V1047.9 M781,1034.9 H1252.7 M946.3,1034.9 V1047.9 M1098.7,1034.9 V1047.9 M1251,1034.9 V1047.9 M781,958.65 H794 M781,882.4 H794 M781,806.15 H794 M781,729.9 H794" fill="none" stroke="#000" stroke-width="3.4"/>
<text transform="translate(794 1079.8) translate(-7.89 0) scale(0.9300 1)" font-size="30.5" fill="#000" font-weight="bold" stroke="#000" stroke-width="0.5" stroke-linejoin="round">0</text>
<text transform="translate(946.3 1079.8) translate(-7.89 0) scale(0.9300 1)" font-size="30.5" fill="#000" font-weight="bold" stroke="#000" stroke-width="0.5" stroke-linejoin="round">5</text>
<text transform="translate(1098.7 1079.8) translate(-15.78 0) scale(0.9300 1)" font-size="30.5" fill="#000" font-weight="bold" stroke="#000" stroke-width="0.5" stroke-linejoin="round">10</text>
<text transform="translate(1251 1079.8) translate(-15.78 0) scale(0.9300 1)" font-size="30.5" fill="#000" font-weight="bold" stroke="#000" stroke-width="0.5" stroke-linejoin="round">15</text>
<text transform="translate(776.5 1046.5) translate(-15.13 0) scale(0.9630 1)" font-size="30.5" fill="#000" font-weight="bold" stroke="#000" stroke-width="0.5" stroke-linejoin="round">0</text>
<text transform="translate(776.5 970.25) translate(-31.43 0) scale(0.9630 1)" font-size="30.5" fill="#000" font-weight="bold" stroke="#000" stroke-width="0.5" stroke-linejoin="round">20</text>
<text transform="translate(776.5 894) translate(-31.43 0) scale(0.9630 1)" font-size="30.5" fill="#000" font-weight="bold" stroke="#000" stroke-width="0.5" stroke-linejoin="round">40</text>
<text transform="translate(776.5 817.75) translate(-31.43 0) scale(0.9630 1)" font-size="30.5" fill="#000" font-weight="bold" stroke="#000" stroke-width="0.5" stroke-linejoin="round">60</text>
<text transform="translate(776.5 741.5) translate(-31.43 0) scale(0.9630 1)" font-size="30.5" fill="#000" font-weight="bold" stroke="#000" stroke-width="0.5" stroke-linejoin="round">80</text>
<text transform="translate(898.6 1140.6) translate(-2.62 0) scale(0.9943 1)" font-size="39" fill="#000" font-weight="bold" stroke="#000" stroke-width="0.5" stroke-linejoin="round">Probe Conc (µM)</text>
<text transform="translate(690.4 1093.2) rotate(-90) translate(-2.26 0) scale(0.9566 1)" font-size="35" fill="#000" font-weight="bold" stroke="#000" stroke-width="0.5" stroke-linejoin="round">FO of Eu-DOTAMA-CBP2 in</text>
<text transform="translate(729.8 1091.8) rotate(-90) translate(-0.42 0) scale(0.9594 1)" font-size="35" fill="#000" font-weight="bold" stroke="#000" stroke-width="0.5" stroke-linejoin="round">the prescence of COL3 (%)</text>
<path d="M797.3,1026.9 L809.6,998.6 L824.7,968.7 L885,888 L946.5,840 L1007,808.7 L1098.7,777.5 L1251,746.4" fill="none" stroke="#918a3e" stroke-width="4.6" stroke-linejoin="round" stroke-linecap="butt"/>
<circle cx="797.3" cy="1026.9" r="6.1" fill="#918a3e"/>
<circle cx="809.6" cy="998.6" r="6.1" fill="#918a3e"/>
<circle cx="824.7" cy="968.7" r="6.1" fill="#918a3e"/>
<circle cx="885" cy="888" r="6.1" fill="#918a3e"/>
<circle cx="946.5" cy="840" r="6.1" fill="#918a3e"/>
<circle cx="1007" cy="808.7" r="6.1" fill="#918a3e"/>
<circle cx="1098.7" cy="777.5" r="6.1" fill="#918a3e"/>
<circle cx="1251" cy="746.4" r="6.1" fill="#918a3e"/>
</g>
<g id="panel-f">
<text transform="translate(1399.8 641.7) translate(-0.86 0)" font-size="49" fill="#000" font-weight="bold" stroke="#000" stroke-width="0.6" stroke-linejoin="round">f</text>
<path d="M1539.8,757.7 V1063.1 M1527.4,1050.7 H1978.7 M1627.4,1050.7 V1063.1 M1715,1050.7 V1063.1 M1802.3,1050.7 V1063.1 M1889.7,1050.7 V1063.1 M1977,1050.7 V1063.1 M1527.4,977.7 H1539.8 M1527.4,904.7 H1539.8 M1527.4,832.1 H1539.8 M1527.4,759.4 H1539.8" fill="none" stroke="#000" stroke-width="3.4"/>
<text transform="translate(1539.8 1093.5) translate(-28.03 0) scale(0.9600 1)" font-size="30" fill="#000" font-weight="bold" stroke="#000" stroke-width="0.5" stroke-linejoin="round">0.01</text>
<text transform="translate(1627.4 1093.5) translate(-20.02 0) scale(0.9600 1)" font-size="30" fill="#000" font-weight="bold" stroke="#000" stroke-width="0.5" stroke-linejoin="round">0.1</text>
<text transform="translate(1715 1093.5) translate(-8.01 0) scale(0.9600 1)" font-size="30" fill="#000" font-weight="bold" stroke="#000" stroke-width="0.5" stroke-linejoin="round">1</text>
<text transform="translate(1802.3 1093.5) translate(-16.02 0) scale(0.9600 1)" font-size="30" fill="#000" font-weight="bold" stroke="#000" stroke-width="0.5" stroke-linejoin="round">10</text>
<text transform="translate(1889.7 1093.5) translate(-24.03 0) scale(0.9600 1)" font-size="30" fill="#000" font-weight="bold" stroke="#000" stroke-width="0.5" stroke-linejoin="round">100</text>
<text transform="translate(1977 1093.5) translate(-32.04 0) scale(0.9600 1)" font-size="30" fill="#000" font-weight="bold" stroke="#000" stroke-width="0.5" stroke-linejoin="round">1000</text>
<text transform="translate(1523.3 1061.8) translate(-14.37 0) scale(0.9300 1)" font-size="30" fill="#000" font-weight="bold" stroke="#000" stroke-width="0.5" stroke-linejoin="round">0</text>
<text transform="translate(1523.3 988.8) translate(-29.85 0) scale(0.9300 1)" font-size="30" fill="#000" font-weight="bold" stroke="#000" stroke-width="0.5" stroke-linejoin="round">50</text>
<text transform="translate(1523.3 915.8) translate(-45.41 0) scale(0.9300 1)" font-size="30" fill="#000" font-weight="bold" stroke="#000" stroke-width="0.5" stroke-linejoin="round">100</text>
<text transform="translate(1523.3 843.2) translate(-45.41 0) scale(0.9300 1)" font-size="30" fill="#000" font-weight="bold" stroke="#000" stroke-width="0.5" stroke-linejoin="round">150</text>
<text transform="translate(1523.3 770.5) translate(-45.41 0) scale(0.9300 1)" font-size="30" fill="#000" font-weight="bold" stroke="#000" stroke-width="0.5" stroke-linejoin="round">200</text>
<text transform="translate(1597.4 1140.3) translate(-2.61 0) scale(0.9920 1)" font-size="39" fill="#000" font-weight="bold" stroke="#000" stroke-width="0.5" stroke-linejoin="round">Probe Conc (µM<tspan font-size="27.3" dy="7.5">Gd</tspan><tspan dy="-7.5">)</tspan></text>
<text transform="translate(1424.8 1045.1) rotate(-90) translate(-0.8 0) scale(0.9601 1)" font-size="33.5" fill="#000" font-weight="bold" stroke="#000" stroke-width="0.5" stroke-linejoin="round">Average binding of</text>
<text transform="translate(1461.7 1142.2) rotate(-90) translate(-2.16 0) scale(0.9572 1)" font-size="33.5" fill="#000" font-weight="bold" stroke="#000" stroke-width="0.5" stroke-linejoin="round" xml:space="preserve">Eu-DOTAMA-CBP2  to COL3 (%)</text>
<line x1="1767.4" y1="850.9" x2="1767.4" y2="952" stroke="#f07d87" stroke-width="3.4"/>
<line x1="1761.4" y1="850.9" x2="1773.4" y2="850.9" stroke="#f07d87" stroke-width="3.0"/>
<line x1="1761.4" y1="952" x2="1773.4" y2="952" stroke="#f07d87" stroke-width="3.0"/>
<line x1="1767.4" y1="877.4" x2="1767.4" y2="946" stroke="#f07d87" stroke-width="3.4"/>
<line x1="1761.4" y1="877.4" x2="1773.4" y2="877.4" stroke="#f07d87" stroke-width="3.0"/>
<line x1="1761.4" y1="946" x2="1773.4" y2="946" stroke="#f07d87" stroke-width="3.0"/>
<line x1="1855" y1="808.8" x2="1855" y2="964.6" stroke="#f07d87" stroke-width="3.4"/>
<line x1="1849" y1="808.8" x2="1861" y2="808.8" stroke="#f07d87" stroke-width="3.0"/>
<line x1="1849" y1="964.6" x2="1861" y2="964.6" stroke="#f07d87" stroke-width="3.0"/>
<line x1="1928.7" y1="861.5" x2="1928.7" y2="1019.3" stroke="#f07d87" stroke-width="3.4"/>
<line x1="1922.7" y1="861.5" x2="1934.7" y2="861.5" stroke="#f07d87" stroke-width="3.0"/>
<line x1="1922.7" y1="1019.3" x2="1934.7" y2="1019.3" stroke="#f07d87" stroke-width="3.0"/>
<line x1="1943.2" y1="907.2" x2="1943.2" y2="984.6" stroke="#f07d87" stroke-width="3.4"/>
<line x1="1937.2" y1="907.2" x2="1949.2" y2="907.2" stroke="#f07d87" stroke-width="3.0"/>
<line x1="1937.2" y1="984.6" x2="1949.2" y2="984.6" stroke="#f07d87" stroke-width="3.0"/>
<line x1="1969.2" y1="972.4" x2="1969.2" y2="1013" stroke="#f07d87" stroke-width="3.4"/>
<line x1="1963.2" y1="972.4" x2="1975.2" y2="972.4" stroke="#f07d87" stroke-width="3.0"/>
<line x1="1963.2" y1="1013" x2="1975.2" y2="1013" stroke="#f07d87" stroke-width="3.0"/>
<rect x="1586.4" y="899.2" width="12" height="12" fill="#f07d87"/>
<rect x="1761.4" y="891.3" width="12" height="12" fill="#f07d87"/>
<rect x="1761.4" y="905" width="12" height="12" fill="#f07d87"/>
<rect x="1849" y="880.5" width="12" height="12" fill="#f07d87"/>
<rect x="1922.7" y="937" width="12" height="12" fill="#f07d87"/>
<rect x="1937.2" y="939.9" width="12" height="12" fill="#f07d87"/>
<rect x="1963.2" y="984.1" width="12" height="12" fill="#f07d87"/>
<path d="M1592.7,916.7 L1820,916.7 L1820,922.5 L1867.2,922.5 L1867.2,928.2 L1889.4,928.2 L1889.4,934.1 L1903.6,934.1 L1903.6,940.2 L1923.2,940.2 L1923.2,945.9 L1930.1,945.9 L1930.1,951.1 L1936.2,951.1 L1936.2,957.2 L1940.5,957.2 L1940.5,962.95 L1944.6,962.95 L1944.6,968.7 L1948.7,968.7 L1948.7,974.45 L1952.8,974.45 L1952.8,980.2 L1956.9,980.2 L1956.9,985.95 L1961,985.95 L1961,991.7 L1965.1,991.7 L1969.2,997.1" fill="none" stroke="#606060" stroke-width="4.0" stroke-linejoin="miter" stroke-linecap="butt"/>
<line x1="1767.4" y1="902.5" x2="1767.4" y2="928.5" stroke="#606060" stroke-width="3.4"/>
<line x1="1761.4" y1="902.5" x2="1773.4" y2="902.5" stroke="#606060" stroke-width="3.0"/>
<line x1="1761.4" y1="928.5" x2="1773.4" y2="928.5" stroke="#606060" stroke-width="3.0"/>
<line x1="1767.4" y1="905.5" x2="1767.4" y2="941" stroke="#606060" stroke-width="3.4"/>
<line x1="1761.4" y1="905.5" x2="1773.4" y2="905.5" stroke="#606060" stroke-width="3.0"/>
<line x1="1761.4" y1="941" x2="1773.4" y2="941" stroke="#606060" stroke-width="3.0"/>
<line x1="1855" y1="910.8" x2="1855" y2="944" stroke="#606060" stroke-width="3.4"/>
<line x1="1849" y1="910.8" x2="1861" y2="910.8" stroke="#606060" stroke-width="3.0"/>
<line x1="1849" y1="944" x2="1861" y2="944" stroke="#606060" stroke-width="3.0"/>
<line x1="1928.7" y1="921.9" x2="1928.7" y2="946.7" stroke="#606060" stroke-width="3.4"/>
<line x1="1922.7" y1="921.9" x2="1934.7" y2="921.9" stroke="#606060" stroke-width="3.0"/>
<line x1="1922.7" y1="946.7" x2="1934.7" y2="946.7" stroke="#606060" stroke-width="3.0"/>
<line x1="1942.6" y1="934.3" x2="1942.6" y2="1008" stroke="#606060" stroke-width="3.4"/>
<line x1="1936.6" y1="934.3" x2="1948.6" y2="934.3" stroke="#606060" stroke-width="3.0"/>
<line x1="1936.6" y1="1008" x2="1948.6" y2="1008" stroke="#606060" stroke-width="3.0"/>
<circle cx="1591.9" cy="904.9" r="6.1" fill="#606060"/>
<circle cx="1767.4" cy="915.9" r="6.1" fill="#606060"/>
<circle cx="1767.4" cy="922.1" r="6.1" fill="#606060"/>
<circle cx="1855" cy="926.8" r="6.1" fill="#606060"/>
<circle cx="1928.7" cy="934.6" r="6.1" fill="#606060"/>
<circle cx="1942.6" cy="971" r="6.1" fill="#606060"/>
<circle cx="1969.2" cy="997.1" r="6.1" fill="#606060"/>
<path d="M1592.44,901.44 L1594.01,901.44 L1595.58,901.44 L1597.15,901.44 L1598.72,901.44 L1600.29,901.44 L1601.86,901.44 L1603.43,901.44 L1605,901.44 L1606.57,901.44 L1608.14,901.44 L1609.71,901.44 L1611.28,901.44 L1612.85,901.44 L1614.42,901.44 L1615.99,901.44 L1617.56,901.44 L1619.13,901.44 L1620.7,901.44 L1622.27,901.44 L1623.84,901.44 L1625.41,901.44 L1626.98,901.44 L1628.55,901.44 L1630.12,901.44 L1631.69,901.44 L1633.26,901.44 L1634.83,901.44 L1636.4,901.44 L1637.97,901.44 L1639.54,901.44 L1641.11,901.44 L1642.68,901.44 L1644.25,901.44 L1645.82,901.44 L1647.39,901.44 L1648.96,901.44 L1650.53,901.44 L1652.09,901.44 L1653.66,901.44 L1655.23,901.44 L1656.8,901.44 L1658.37,901.44 L1659.94,901.44 L1661.51,901.44 L1663.08,901.44 L1664.65,901.44 L1666.22,901.44 L1667.79,901.44 L1669.36,901.44 L1670.93,901.44 L1672.5,901.44 L1674.07,901.44 L1675.64,901.44 L1677.21,901.44 L1678.78,901.44 L1680.35,901.44 L1681.92,901.44 L1683.49,901.44 L1685.06,901.44 L1686.63,901.44 L1688.2,901.44 L1689.77,901.44 L1691.34,901.44 L1692.91,901.44 L1694.48,901.44 L1696.05,901.44 L1697.62,901.44 L1699.19,901.44 L1700.76,901.44 L1702.33,901.44 L1703.9,901.44 L1705.47,901.44 L1707.04,901.44 L1708.61,901.44 L1710.18,901.44 L1711.75,901.44 L1713.32,901.44 L1714.88,901.44 L1716.45,901.44 L1718.02,901.44 L1719.59,901.44 L1721.16,901.44 L1722.73,901.44 L1724.3,901.44 L1725.87,901.44 L1727.44,901.44 L1729.01,901.44 L1730.58,901.44 L1732.15,901.44 L1733.72,901.45 L1735.29,901.45 L1736.86,901.45 L1738.43,901.45 L1740,901.45 L1741.57,901.45 L1743.14,901.45 L1744.71,901.45 L1746.28,901.45 L1747.85,901.45 L1749.42,901.45 L1750.99,901.46 L1752.56,901.46 L1754.13,901.46 L1755.7,901.46 L1757.27,901.46 L1758.84,901.46 L1760.41,901.47 L1761.98,901.47 L1763.55,901.47 L1765.12,901.47 L1766.69,901.47 L1768.26,901.48 L1769.83,901.48 L1771.4,901.48 L1772.97,901.49 L1774.54,901.49 L1776.11,901.49 L1777.68,901.5 L1779.24,901.5 L1780.81,901.51 L1782.38,901.51 L1783.95,901.52 L1785.52,901.52 L1787.09,901.53 L1788.66,901.54 L1790.23,901.54 L1791.8,901.55 L1793.37,901.56 L1794.94,901.57 L1796.51,901.58 L1798.08,901.59 L1799.65,901.6 L1801.22,901.61 L1802.79,901.62 L1804.36,901.63 L1805.93,901.65 L1807.5,901.66 L1809.07,901.68 L1810.64,901.69 L1812.21,901.71 L1813.78,901.73 L1815.35,901.75 L1816.92,901.77 L1818.49,901.8 L1820.06,901.82 L1821.63,901.85 L1823.2,901.88 L1824.77,901.91 L1826.34,901.95 L1827.91,901.98 L1829.48,902.02 L1831.05,902.06 L1832.62,902.1 L1834.19,902.15 L1835.76,902.2 L1837.33,902.25 L1838.9,902.31 L1840.47,902.37 L1842.03,902.44 L1843.6,902.51 L1845.17,902.58 L1846.74,902.67 L1848.31,902.75 L1849.88,902.84 L1851.45,902.94 L1853.02,903.05 L1854.59,903.16 L1856.16,903.28 L1857.73,903.41 L1859.3,903.54 L1860.87,903.69 L1862.44,903.85 L1864.01,904.02 L1865.58,904.19 L1867.15,904.38 L1868.72,904.59 L1870.29,904.81 L1871.86,905.04 L1873.43,905.29 L1875,905.55 L1876.57,905.83 L1878.14,906.13 L1879.71,906.45 L1881.28,906.79 L1882.85,907.16 L1884.42,907.55 L1885.99,907.96 L1887.56,908.4 L1889.13,908.86 L1890.7,909.36 L1892.27,909.89 L1893.84,910.45 L1895.41,911.04 L1896.98,911.67 L1898.55,912.34 L1900.12,913.05 L1901.69,913.81 L1903.26,914.6 L1904.83,915.44 L1906.39,916.33 L1907.96,917.27 L1909.53,918.26 L1911.1,919.31 L1912.67,920.41 L1914.24,921.57 L1915.81,922.79 L1917.38,924.06 L1918.95,925.4 L1920.52,926.81 L1922.09,928.28 L1923.66,929.81 L1925.23,931.41 L1926.8,933.08 L1928.37,934.81 L1929.94,936.61 L1931.51,938.47 L1933.08,940.4 L1934.65,942.4 L1936.22,944.45 L1937.79,946.57 L1939.36,948.75 L1940.93,950.97 L1942.5,953.25 L1944.07,955.58 L1945.64,957.95 L1947.21,960.37 L1948.78,962.81 L1950.35,965.29 L1951.92,967.79 L1953.49,970.3 L1955.06,972.84 L1956.63,975.37 L1958.2,977.91 L1959.77,980.45 L1961.34,982.97 L1962.91,985.48 L1964.48,987.97 L1966.05,990.43 L1967.62,992.85 L1969.18,995.24" fill="none" stroke="#f07d87" stroke-width="4.2" stroke-linejoin="round" stroke-linecap="round" stroke-dasharray="7.6 14.4" stroke-dashoffset="0.8"/>
<circle cx="1969.2" cy="997.1" r="6.1" fill="#606060"/>
<line x1="1689.4" y1="743.7" x2="1720.2" y2="743.7" stroke="#606060" stroke-width="4.6"/>
<circle cx="1704.6" cy="743.7" r="5.9" fill="#606060"/>
<text transform="translate(1738.8 751.5) translate(-2.05 0) scale(0.9935 1)" font-size="28.5" fill="#000" stroke="#000" stroke-width="0.3" stroke-linejoin="round">[Gd-DOTAMA]<tspan font-size="19.95" dy="5.8">4</tspan><tspan dy="-5.8">-CBP2</tspan></text>
<line x1="1689.4" y1="782.6" x2="1720.2" y2="782.6" stroke="#f07d87" stroke-width="4.3"/>
<rect x="1698.6" y="776.6" width="12" height="12" fill="#f07d87"/>
<text transform="translate(1738.8 790.6) translate(-2.05 0) scale(0.9924 1)" font-size="28.5" fill="#000" stroke="#000" stroke-width="0.3" stroke-linejoin="round">[Gd-DOTAMA]<tspan font-size="19.95" dy="5.8">4</tspan><tspan dy="-5.8">-SccCBP2</tspan></text>
<text transform="translate(1968.6 933.7) translate(-1.66 0) scale(1.0236 1)" font-size="24" fill="#b96e76" font-weight="bold" stroke="#b96e76" stroke-width="0.5" stroke-linejoin="round">No fit</text>
<text transform="translate(1770.2 1008.3) translate(-1.64 0) scale(1.0135 1)" font-size="24" fill="#666666" font-weight="bold" stroke="#666666" stroke-width="0.5" stroke-linejoin="round">No fit</text>
</g>
</svg>
</body>
</html>
